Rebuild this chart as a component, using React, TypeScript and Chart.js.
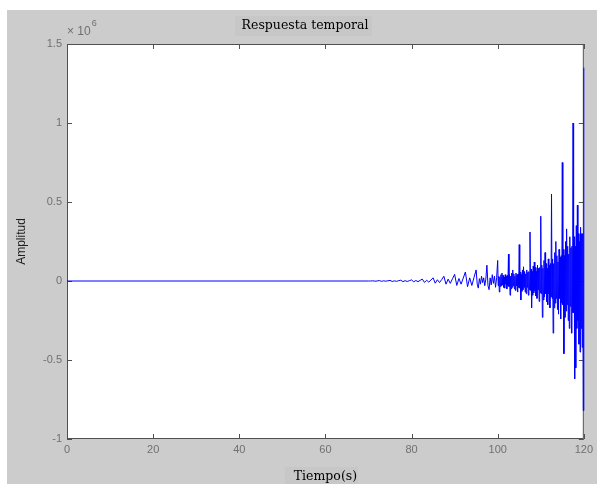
import React, { useEffect, useRef } from "react";
import { Chart, registerables } from "chart.js";

Chart.register(...registerables);

// Time axis (s)
const time: number[] = [
  0, 70, 70.5, 71, 71.5, 72, 72.5, 73, 73.5, 74, 74.5, 75, 75.5, 76, 76.5, 77, 77.5, 78, 78.5, 79, 79.5,
  80, 80.5, 81, 81.5, 82, 82.5, 83, 83.5, 84, 84.5, 85, 85.5, 86, 86.5, 87, 87.5, 88, 88.5, 89, 89.5,
  90, 90.5, 91, 91.5, 92, 92.5, 93, 93.5, 94, 94.5,
  95, 95.25, 95.5, 95.75, 96, 96.25, 96.5, 96.75, 97, 97.25,
  97.5, 97.75, 98, 98.25, 98.5, 98.75, 99, 99.25, 99.5, 99.75,
  100, 100.125, 100.25, 100.375, 100.5, 100.625, 100.75, 100.875, 101, 101.125,
  101.25, 101.375, 101.5, 101.625, 101.75, 101.875, 102, 102.125, 102.25, 102.375,
  102.5, 102.625, 102.75, 102.875, 103, 103.125, 103.25, 103.375, 103.5, 103.625,
  103.75, 103.875, 104, 104.125, 104.25, 104.375, 104.5, 104.625, 104.75, 104.875,
  105, 105.125, 105.25, 105.375, 105.5, 105.625, 105.75, 105.875, 106, 106.125,
  106.25, 106.375, 106.5, 106.625, 106.75, 106.875, 107, 107.125, 107.25, 107.375,
  107.5, 107.625, 107.75, 107.875, 108, 108.125, 108.25, 108.375, 108.5, 108.625,
  108.75, 108.875, 109, 109.125, 109.25, 109.375, 109.5, 109.625, 109.75, 109.875,
  110, 110.125, 110.25, 110.375, 110.5, 110.625, 110.75, 110.875, 111, 111.125,
  111.25, 111.375, 111.5, 111.625, 111.75, 111.875, 112, 112.125, 112.25, 112.375,
  112.5, 112.625, 112.75, 112.875, 113, 113.125, 113.25, 113.375, 113.5, 113.625,
  113.75, 113.875, 114, 114.125, 114.25, 114.375, 114.5, 114.625, 114.75, 114.875,
  115, 115.125, 115.25, 115.375, 115.5, 115.625, 115.75, 115.875, 116, 116.125,
  116.25, 116.375, 116.5, 116.625, 116.75, 116.875, 117, 117.125, 117.25, 117.375,
  117.5, 117.625, 117.75, 117.875, 118, 118.125, 118.25, 118.375, 118.5, 118.625,
  118.75, 118.875, 119, 119.125, 119.25, 119.375, 119.5, 119.625, 119.75, 119.875,
  120,
];

// Amplitude in units of 10^6
const amplitude: number[] = [
  0, 0, 0, 0.001, -0.001, 0, 0.003, -0.002, 0.001, -0.001, 0.001, 0.004, -0.003, 0.001, -0.002, 0.002, 0.005, -0.004, 0.002, -0.003, 0.002,
  0.007, -0.005, 0.003, -0.004, 0.004, 0.012, -0.009, 0.005, -0.007, 0.006, 0.02, -0.014, 0.008, -0.01, 0.009, 0.03, -0.02, 0.012, -0.015, 0.014,
  0.042, -0.028, 0.016, -0.02, 0.018, 0.057, -0.036, 0.02, -0.028, 0.022,
  0.07, -0.02, -0.045, 0.015, -0.02, 0.03, -0.01, 0.02, -0.03, 0.012,
  0.10, -0.03, -0.055, 0.02, -0.025, 0.04, -0.015, 0.03, -0.04, 0.02,
  0.13, -0.03, 0.03, -0.07, 0.025, -0.035, 0.04, -0.03, 0.05, -0.025,
  0.035, -0.04, 0.025, -0.045, 0.04, -0.02, 0.03, -0.05, 0.035, -0.03,
  0.17, -0.035, 0.04, -0.09, 0.03, -0.05, 0.05, -0.04, 0.07, -0.03,
  0.045, -0.05, 0.03, -0.06, 0.05, -0.03, 0.04, -0.07, 0.045, -0.04,
  0.23, -0.045, 0.055, -0.12, 0.04, -0.065, 0.07, -0.055, 0.09, -0.04,
  0.06, -0.07, 0.045, -0.08, 0.07, -0.04, 0.055, -0.09, 0.06, -0.055,
  0.31, -0.06, 0.075, -0.17, 0.06, -0.09, 0.095, -0.075, 0.12, -0.06,
  0.085, -0.095, 0.06, -0.11, 0.1, -0.055, 0.08, -0.13, 0.085, -0.075,
  0.41, -0.08, 0.1, -0.23, 0.08, -0.12, 0.13, -0.1, 0.18, -0.08,
  0.11, -0.13, 0.08, -0.15, 0.14, -0.08, 0.1, -0.17, 0.11, -0.1,
  0.55, -0.11, 0.14, -0.33, 0.11, -0.17, 0.18, -0.14, 0.25, -0.11,
  0.16, -0.18, 0.12, -0.21, 0.2, -0.11, 0.15, -0.24, 0.16, -0.14,
  0.75, -0.15, 0.2, -0.46, 0.16, -0.23, 0.25, -0.19, 0.33, -0.15,
  0.22, -0.25, 0.17, -0.3, 0.28, -0.16, 0.21, -0.33, 0.22, -0.2,
  1.0, -0.2, 0.28, -0.62, 0.22, -0.55, 0.35, -0.3, 0.48, -0.25,
  0.3, -0.4, 0.25, -0.45, 0.34, -0.3, 0.3, -0.42, 0.3, -0.82,
  1.35,
];

const xTicks: number[] = [0, 20, 40, 60, 80, 100, 120];
const yTicks: number[] = [-1, -0.5, 0, 0.5, 1, 1.5];

const TITLE = "Respuesta temporal";
const X_LABEL = "Tiempo(s)";
const Y_LABEL = "Amplitud";
const EXP_BASE = "\u00d7 10";
const EXP_POWER = "6";

const FIG = "#cccccc";
const AXIS = "#505050";
const TICKTXT = "#707070";

const frame = {
  id: "matlabFrame",
  beforeDraw(chart: any) {
    const { ctx, chartArea: a, width, height } = chart;
    ctx.save();
    ctx.fillStyle = "#ffffff";
    ctx.fillRect(0, 0, width, height);
    ctx.fillStyle = FIG;
    ctx.fillRect(7, 10, width - 7, height - 10);
    ctx.fillStyle = "#c7c7c7";
    ctx.fillRect(235, 16, 137, 20);
    ctx.fillRect(285, 467, 73, 17);
    ctx.fillStyle = "#ffffff";
    ctx.fillRect(a.left, a.top, a.right - a.left, a.bottom - a.top);
    ctx.restore();
  },
  beforeDatasetsDraw(chart: any) {
    const { ctx, chartArea: a, scales } = chart;
    const tl = 5;
    ctx.save();
    ctx.strokeStyle = AXIS;
    ctx.lineWidth = 1;
    ctx.beginPath();
    for (const v of xTicks) {
      const px = Math.round(scales.x.getPixelForValue(v)) + 0.5;
      ctx.moveTo(px, a.bottom);
      ctx.lineTo(px, a.bottom - tl);
      ctx.moveTo(px, a.top);
      ctx.lineTo(px, a.top + tl);
    }
    for (const v of yTicks) {
      const py = Math.round(scales.y.getPixelForValue(v)) + 0.5;
      ctx.moveTo(a.left, py);
      ctx.lineTo(a.left + tl, py);
      ctx.moveTo(a.right, py);
      ctx.lineTo(a.right - tl, py);
    }
    ctx.stroke();
    ctx.strokeRect(a.left + 0.5, a.top + 0.5, a.right - a.left - 1, a.bottom - a.top - 1);
    ctx.restore();
  },
  afterDraw(chart: any) {
    const { ctx, chartArea: a } = chart;
    ctx.save();
    ctx.fillStyle = "#000000";
    ctx.font = "12.5px 'DejaVu Serif'";
    ctx.textAlign = "center";
    ctx.textBaseline = "middle";
    ctx.fillText(TITLE, 305, 26);
    ctx.fillStyle = TICKTXT;
    ctx.textAlign = "left";
    ctx.font = "12px 'Liberation Sans'";
    ctx.fillText(EXP_BASE, a.left, 32);
    const w = ctx.measureText(EXP_BASE).width;
    ctx.font = "9px 'Liberation Sans'";
    ctx.fillText(EXP_POWER, a.left + w + 1, 24);
    ctx.restore();
  },
};

export default function App() {
  const ref = useRef<HTMLCanvasElement | null>(null);

  useEffect(() => {
    document.body.style.margin = "0";
    const canvas = ref.current;
    if (!canvas) return;
    const points = time.map((t, i) => ({ x: t, y: amplitude[i] }));
    const chart = new Chart(canvas, {
      type: "line",
      data: {
        datasets: [
          {
            data: points,
            borderColor: "#0000ff",
            borderWidth: 1,
            pointRadius: 0,
            tension: 0,
            fill: false,
            clip: 2,
          },
        ],
      },
      options: {
        responsive: false,
        animation: false,
        layout: { padding: { left: 0, top: 44, right: 13, bottom: 0 } },
        plugins: {
          legend: { display: false },
          title: { display: false },
          tooltip: { enabled: false },
        },
        scales: {
          x: {
            type: "linear",
            min: 0,
            max: 120,
            afterFit: (s: any) => {
              s.height = 45;
            },
            afterBuildTicks: (s: any) => {
              s.ticks = xTicks.map((v) => ({ value: v }));
            },
            grid: { display: false, drawTicks: false },
            border: { display: false },
            ticks: {
              padding: 4,
              color: TICKTXT,
              font: { family: "'Liberation Sans'", size: 11 },
              maxRotation: 0,
              callback: (v: any) => String(v),
            },
            title: {
              display: true,
              text: X_LABEL,
              color: "#000000",
              font: { family: "'DejaVu Serif'", size: 12.5 },
              padding: { top: 0, bottom: 0 },
            },
          },
          y: {
            type: "linear",
            min: -1,
            max: 1.5,
            afterFit: (s: any) => {
              s.width = 67;
            },
            afterBuildTicks: (s: any) => {
              s.ticks = yTicks.map((v) => ({ value: v }));
            },
            grid: { display: false, drawTicks: false },
            border: { display: false },
            ticks: {
              padding: 5,
              color: TICKTXT,
              font: { family: "'Liberation Sans'", size: 11 },
              callback: (v: any) => String(v),
            },
            title: {
              display: true,
              text: Y_LABEL,
              color: "#202020",
              font: { family: "'Liberation Sans'", size: 12 },
              padding: { top: 14, bottom: 0 },
            },
          },
        },
      },
      plugins: [frame],
    });
    return () => chart.destroy();
  }, []);

  return <canvas ref={ref} width={597} height={484} style={{ display: "block" }} />;
}
